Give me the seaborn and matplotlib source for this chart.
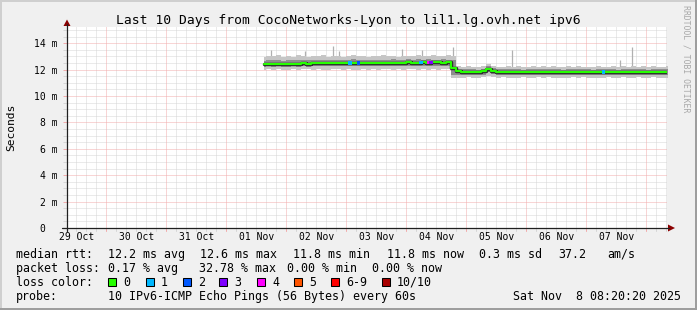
import numpy as np
import pandas as pd
import matplotlib
matplotlib.use("Agg")
import matplotlib.pyplot as plt
from matplotlib.patches import Rectangle, Polygon
from matplotlib.lines import Line2D
import seaborn as sns

# ---------------- data ----------------
range_start = "2025-10-29 08:20:20"
range_end = "2025-11-08 08:20:20"
sample_start = "2025-11-01 15:00"   # 2-hourly samples
day_labels = ["29 Oct", "30 Oct", "31 Oct", "01 Nov", "02 Nov",
              "03 Nov", "04 Nov", "05 Nov", "06 Nov", "07 Nov"]

median_ms = [
    12.40, 12.43, 12.45, 12.44, 12.46, 12.43, 12.44, 12.46, 12.47, 12.45,
    12.48, 12.49, 12.50, 12.48, 12.50, 12.51, 12.49, 12.50, 12.52, 12.50,
    12.51, 12.50, 12.52, 12.51, 12.53, 12.52, 12.54, 12.52, 12.53, 12.55,
    12.54, 12.53, 12.55, 12.54, 12.56, 12.55, 12.54, 12.55,
    12.10,
    11.86, 11.84, 11.85, 11.83, 11.84, 11.86,
    12.08,
    11.92,
    11.85, 11.84, 11.83, 11.85, 11.84, 11.83, 11.84, 11.82, 11.83, 11.84,
    11.83, 11.82, 11.84, 11.83, 11.82, 11.81, 11.83, 11.82, 11.84, 11.83,
    11.82, 11.81, 11.83, 11.82, 11.81, 11.82, 11.83, 11.81, 11.82, 11.81,
    11.82, 11.80, 11.81, 11.82, 11.81]

smoke_max = [
    12.95, 13.05, 13.00, 13.10, 12.98, 13.02, 12.96, 13.08, 13.00, 12.97,
    13.04, 13.00, 13.10, 12.98, 13.06, 13.02, 12.99, 13.05, 13.08, 13.00,
    13.03, 12.97, 13.06, 13.01, 13.10, 13.00, 13.04, 12.98, 13.05, 13.07,
    13.02, 13.08, 13.00, 13.05, 13.10, 13.03, 13.06, 13.08,
    13.00,
    12.25, 12.20, 12.28, 12.22, 12.18, 12.26,
    12.45,
    12.30,
    12.22, 12.18, 12.25, 12.20, 12.27, 12.19, 12.23, 12.28, 12.21, 12.24,
    12.20, 12.26, 12.22, 12.18, 12.25, 12.21, 12.27, 12.20, 12.23, 12.19,
    12.26, 12.22, 12.20, 12.28, 12.21, 12.24, 12.19, 12.26, 12.22, 12.25,
    12.20, 12.27, 12.23, 12.21, 12.24]

smoke_hi = [
    12.68, 12.72, 12.70, 12.74, 12.69, 12.71, 12.73, 12.70, 12.72, 12.75,
    12.71, 12.73, 12.76, 12.72, 12.74, 12.70, 12.75, 12.73, 12.77, 12.72,
    12.74, 12.71, 12.76, 12.73, 12.75, 12.72, 12.77, 12.74, 12.76, 12.78,
    12.75, 12.77, 12.74, 12.78, 12.76, 12.75, 12.77, 12.76,
    12.70,
    12.04, 12.01, 12.05, 12.02, 12.00, 12.04,
    12.28,
    12.10,
    12.03, 12.01, 12.04, 12.02, 12.05, 12.00, 12.03, 12.04, 12.01, 12.03,
    12.02, 12.04, 12.01, 12.00, 12.03, 12.02, 12.05, 12.01, 12.03, 12.00,
    12.04, 12.02, 12.01, 12.03, 12.00, 12.02, 12.04, 12.01, 12.03, 12.02,
    12.00, 12.03, 12.02, 12.01, 12.02]

smoke_lo = [
    12.20, 12.24, 12.22, 12.25, 12.23, 12.21, 12.24, 12.22, 12.25, 12.23,
    12.26, 12.24, 12.27, 12.25, 12.26, 12.24, 12.27, 12.25, 12.28, 12.26,
    12.27, 12.25, 12.28, 12.26, 12.29, 12.27, 12.28, 12.26, 12.29, 12.30,
    12.28, 12.27, 12.30, 12.29, 12.31, 12.28, 12.29, 12.30,
    11.62,
    11.62, 11.60, 11.63, 11.61, 11.59, 11.62,
    11.82,
    11.68,
    11.62, 11.60, 11.63, 11.61, 11.59, 11.62, 11.60, 11.63, 11.61, 11.60,
    11.62, 11.59, 11.61, 11.60, 11.62, 11.58, 11.61, 11.60, 11.62, 11.59,
    11.61, 11.60, 11.58, 11.62, 11.60, 11.59, 11.61, 11.58, 11.60, 11.59,
    11.60, 11.58, 11.61, 11.59, 11.60]

smoke_min = [
    12.00, 12.02, 11.98, 12.04, 12.00, 11.97, 12.03, 11.99, 12.01, 12.04,
    11.98, 12.02, 12.00, 11.97, 12.03, 12.01, 11.99, 12.04, 12.00, 11.98,
    12.02, 12.00, 12.04, 11.99, 12.01, 12.03, 11.98, 12.02, 12.00, 12.04,
    12.01, 11.99, 12.03, 12.00, 12.02, 11.98, 12.01, 12.03,
    11.40,
    11.40, 11.36, 11.42, 11.38, 11.35, 11.41,
    11.55,
    11.42,
    11.38, 11.42, 11.36, 11.40, 11.37, 11.43, 11.39, 11.35, 11.41, 11.38,
    11.42, 11.36, 11.40, 11.38, 11.35, 11.41, 11.37, 11.43, 11.39, 11.36,
    11.40, 11.37, 11.42, 11.38, 11.35, 11.41, 11.39, 11.36, 11.42, 11.38,
    11.37, 11.41, 11.36, 11.39, 11.38]

spike_times = ["2025-11-01 18:00", "2025-11-02 07:30", "2025-11-02 18:40",
               "2025-11-02 21:00", "2025-11-03 22:20", "2025-11-04 06:20",
               "2025-11-04 18:40", "2025-11-05 18:20", "2025-11-07 13:30",
               "2025-11-07 18:20"]
spike_tops = [13.50, 13.40, 13.80, 13.40, 13.55, 13.50, 13.70, 13.45, 12.70, 13.73]
spike_bases = [12.90, 12.90, 12.90, 12.90, 12.90, 12.90, 12.90, 12.10, 12.10, 12.10]

loss_times = ["2025-11-03 01:30", "2025-11-03 05:00", "2025-11-04 06:00",
              "2025-11-04 09:00", "2025-11-04 10:00", "2025-11-07 07:00"]
loss_levels = ["1", "2", "1", "4", "3", "1"]
loss_ms = [12.50, 12.50, 12.55, 12.55, 12.52, 11.82]

legend_labels = ["0", "1", "2", "3", "4", "5", "6-9", "10/10"]
legend_colors = ["#26ff00", "#00b8ff", "#0059ff", "#7e00ff",
                 "#ff00ff", "#ff5500", "#ff0000", "#a80000"]

# ---------------- figure ----------------
W, H = 697, 310
sns.set_theme(style="white")
plt.rcParams["font.family"] = ["DejaVu Sans Mono", "DejaVu Sans"]
FONT = "#000000"
GRID_MINOR = "#d6d6d6"
GRID_MAJOR = "#f2acac"

def fx(x):
    return x / W

def fy(y):
    return 1 - y / H

fig = plt.figure(figsize=(W / 100, H / 100), dpi=100, facecolor="#f0f0f0")

# 3D-ish frame
fig.add_artist(Rectangle((0, fy(2)), 1, 2 / H, transform=fig.transFigure,
                         color="#cfcfcf", lw=0, zorder=0))
fig.add_artist(Rectangle((0, 0), 2 / W, 1, transform=fig.transFigure,
                         color="#cfcfcf", lw=0, zorder=0))
fig.add_artist(Rectangle((0, 0), 1, 2 / H, transform=fig.transFigure,
                         color="#9e9e9e", lw=0, zorder=1))
fig.add_artist(Rectangle((fx(W - 2), 0), 2 / W, 1, transform=fig.transFigure,
                         color="#9e9e9e", lw=0, zorder=1))

Y0, Y_TOP_PX = 228, 27.4
ax = fig.add_axes([fx(67), fy(Y0), 600 / W, (Y0 - Y_TOP_PX) / H])
ax.set_facecolor("white")
for s in ax.spines.values():
    s.set_visible(False)

t0 = pd.Timestamp(range_start)
t1 = pd.Timestamp(range_end)
ax.set_xlim(t0, t1)
ax.set_ylim(0, 15.2)

times = pd.date_range(sample_start, periods=len(median_ms), freq="2h")
df = pd.DataFrame({"time": times, "median": median_ms,
                   "smax": smoke_max, "shi": smoke_hi,
                   "slo": smoke_lo, "smin": smoke_min})

# grid
dot = (0, (1, 1))
midnights = pd.date_range("2025-10-30", "2025-11-08", freq="D")
fourh = pd.date_range("2025-10-29 12:00", "2025-11-08 08:00", freq="4h")
for t in fourh:
    if t.hour != 0:
        ax.axvline(t, color=GRID_MINOR, lw=0.72, ls=dot, zorder=0.5)
        ax.axvline(t, ymin=-3 / 200.6, ymax=0, color=GRID_MINOR, lw=0.72,
                   clip_on=False, zorder=0.5)
for t in midnights:
    ax.axvline(t, color=GRID_MAJOR, lw=0.72, ls=dot, zorder=0.6)
    ax.axvline(t, ymin=-3 / 200.6, ymax=0, color=GRID_MAJOR, lw=0.72,
               clip_on=False, zorder=0.6)

ax.set_yticks(np.arange(0, 15, 2))
ax.set_yticklabels(["0  "] + [f"{v} m" for v in range(2, 15, 2)])
ax.yaxis.set_minor_locator(matplotlib.ticker.MultipleLocator(0.5))
ax.grid(which="major", axis="y", color=GRID_MAJOR, lw=0.72, ls=dot)
ax.grid(which="minor", axis="y", color=GRID_MINOR, lw=0.72, ls=dot)
ax.grid(which="both", axis="x", visible=False)
ax.set_axisbelow(True)
ax.tick_params(axis="y", which="major", length=3, width=0.72, color=GRID_MAJOR,
               pad=4, labelsize=7, labelcolor=FONT, left=True)
ax.tick_params(axis="y", which="minor", length=3, width=0.72, color=GRID_MINOR,
               left=True)

noons = pd.date_range("2025-10-29 12:00", periods=len(day_labels), freq="D")
ax.set_xticks(noons)
ax.set_xticklabels(day_labels)
ax.tick_params(axis="x", which="major", length=0, pad=3.2, labelsize=7,
               labelcolor=FONT)
ax.xaxis.set_minor_locator(matplotlib.ticker.NullLocator())

# smoke
ax.vlines(pd.to_datetime(spike_times), spike_bases, spike_tops,
          color="#b0b0b0", lw=0.9, zorder=2)
ax.fill_between(df["time"], df["smin"], df["smax"], step="mid",
                color="#c6c6c6", lw=0, zorder=2.1)
ax.fill_between(df["time"], df["slo"], df["shi"], step="mid",
                color="#8e8e8e", lw=0, zorder=2.2)

# median line (dark core + loss colour)
sns.lineplot(data=df, x="time", y="median", estimator=None,
             drawstyle="steps-mid", color="#303030", lw=2.5, ax=ax, zorder=3)
sns.lineplot(data=df, x="time", y="median", estimator=None,
             drawstyle="steps-mid", color=legend_colors[0], lw=1.5, ax=ax,
             zorder=3.5)
loss_df = pd.DataFrame({"time": pd.to_datetime(loss_times),
                        "ms": loss_ms, "loss": loss_levels})
sns.scatterplot(data=loss_df, x="time", y="ms", hue="loss",
                palette=dict(zip(legend_labels, legend_colors)),
                marker="s", s=6, linewidth=0, legend=False, ax=ax, zorder=4)
ax.set_xlabel("")
ax.set_ylabel("")

# axes lines and arrows
fig.add_artist(Line2D([fx(62), fx(669)], [fy(Y0), fy(Y0)],
                      transform=fig.transFigure, color="#202020", lw=0.9))
fig.add_artist(Line2D([fx(67), fx(67)], [fy(231), fy(24)],
                      transform=fig.transFigure, color="#202020", lw=0.9))
fig.add_artist(Polygon([(fx(63.5), fy(26)), (fx(70.5), fy(26)), (fx(67), fy(19.5))],
                       closed=True, transform=fig.transFigure,
                       color="#8b0000", lw=0))
fig.add_artist(Polygon([(fx(668), fy(224.5)), (fx(668), fy(231.5)), (fx(675), fy(228))],
                       closed=True, transform=fig.transFigure,
                       color="#8b0000", lw=0))

# texts
fig.text(fx(348.5), fy(24), "Last 10 Days from CocoNetworks-Lyon to lil1.lg.ovh.net ipv6",
         ha="center", va="baseline", fontsize=9.4, color=FONT)
fig.text(fx(11), fy(127), "Seconds", rotation=90, ha="center", va="center",
         fontsize=8.1, color=FONT)
fig.text(fx(686), fy(5), "RRDTOOL / TOBI OETIKER", rotation=270, ha="center",
         va="top", fontsize=5.9, color="#a8a8a8")

LS = 8.4
rows = [
    (257.7, [(16, "median rtt:"), (108, "12.2 ms avg"), (200, "12.6 ms max"),
             (293, "11.8 ms min"), (387, "11.8 ms now"), (479, "0.3 ms sd"),
             (558, "37.2"), (607, "am/s")]),
    (272.0, [(16, "packet loss:"), (108, "0.17 % avg"), (199, "32.78 % max"),
             (287, "0.00 % min"), (372, "0.00 % now")]),
    (285.7, [(16, "loss color:")]),
    (300.0, [(16, "probe:"), (108, "10 IPv6-ICMP Echo Pings (56 Bytes) every 60s"),
             (513, "Sat Nov  8 08:20:20 2025")]),
]
for yb, items in rows:
    for x, s in items:
        fig.text(fx(x), fy(yb), s, ha="left", va="baseline", fontsize=LS,
                 color=FONT)

box_x = [108, 146, 183, 219, 257, 294, 331, 382]
for bx, lab, col in zip(box_x, legend_labels, legend_colors):
    fig.add_artist(Rectangle((fx(bx), fy(286)), 8 / W, 8 / H,
                             transform=fig.transFigure, facecolor=col,
                             edgecolor="#000000", lw=0.75))
    fig.text(fx(bx + 15), fy(285.7), lab, ha="left", va="baseline",
             fontsize=LS, color=FONT)

fig.savefig("out.png", dpi=100, facecolor=fig.get_facecolor())
